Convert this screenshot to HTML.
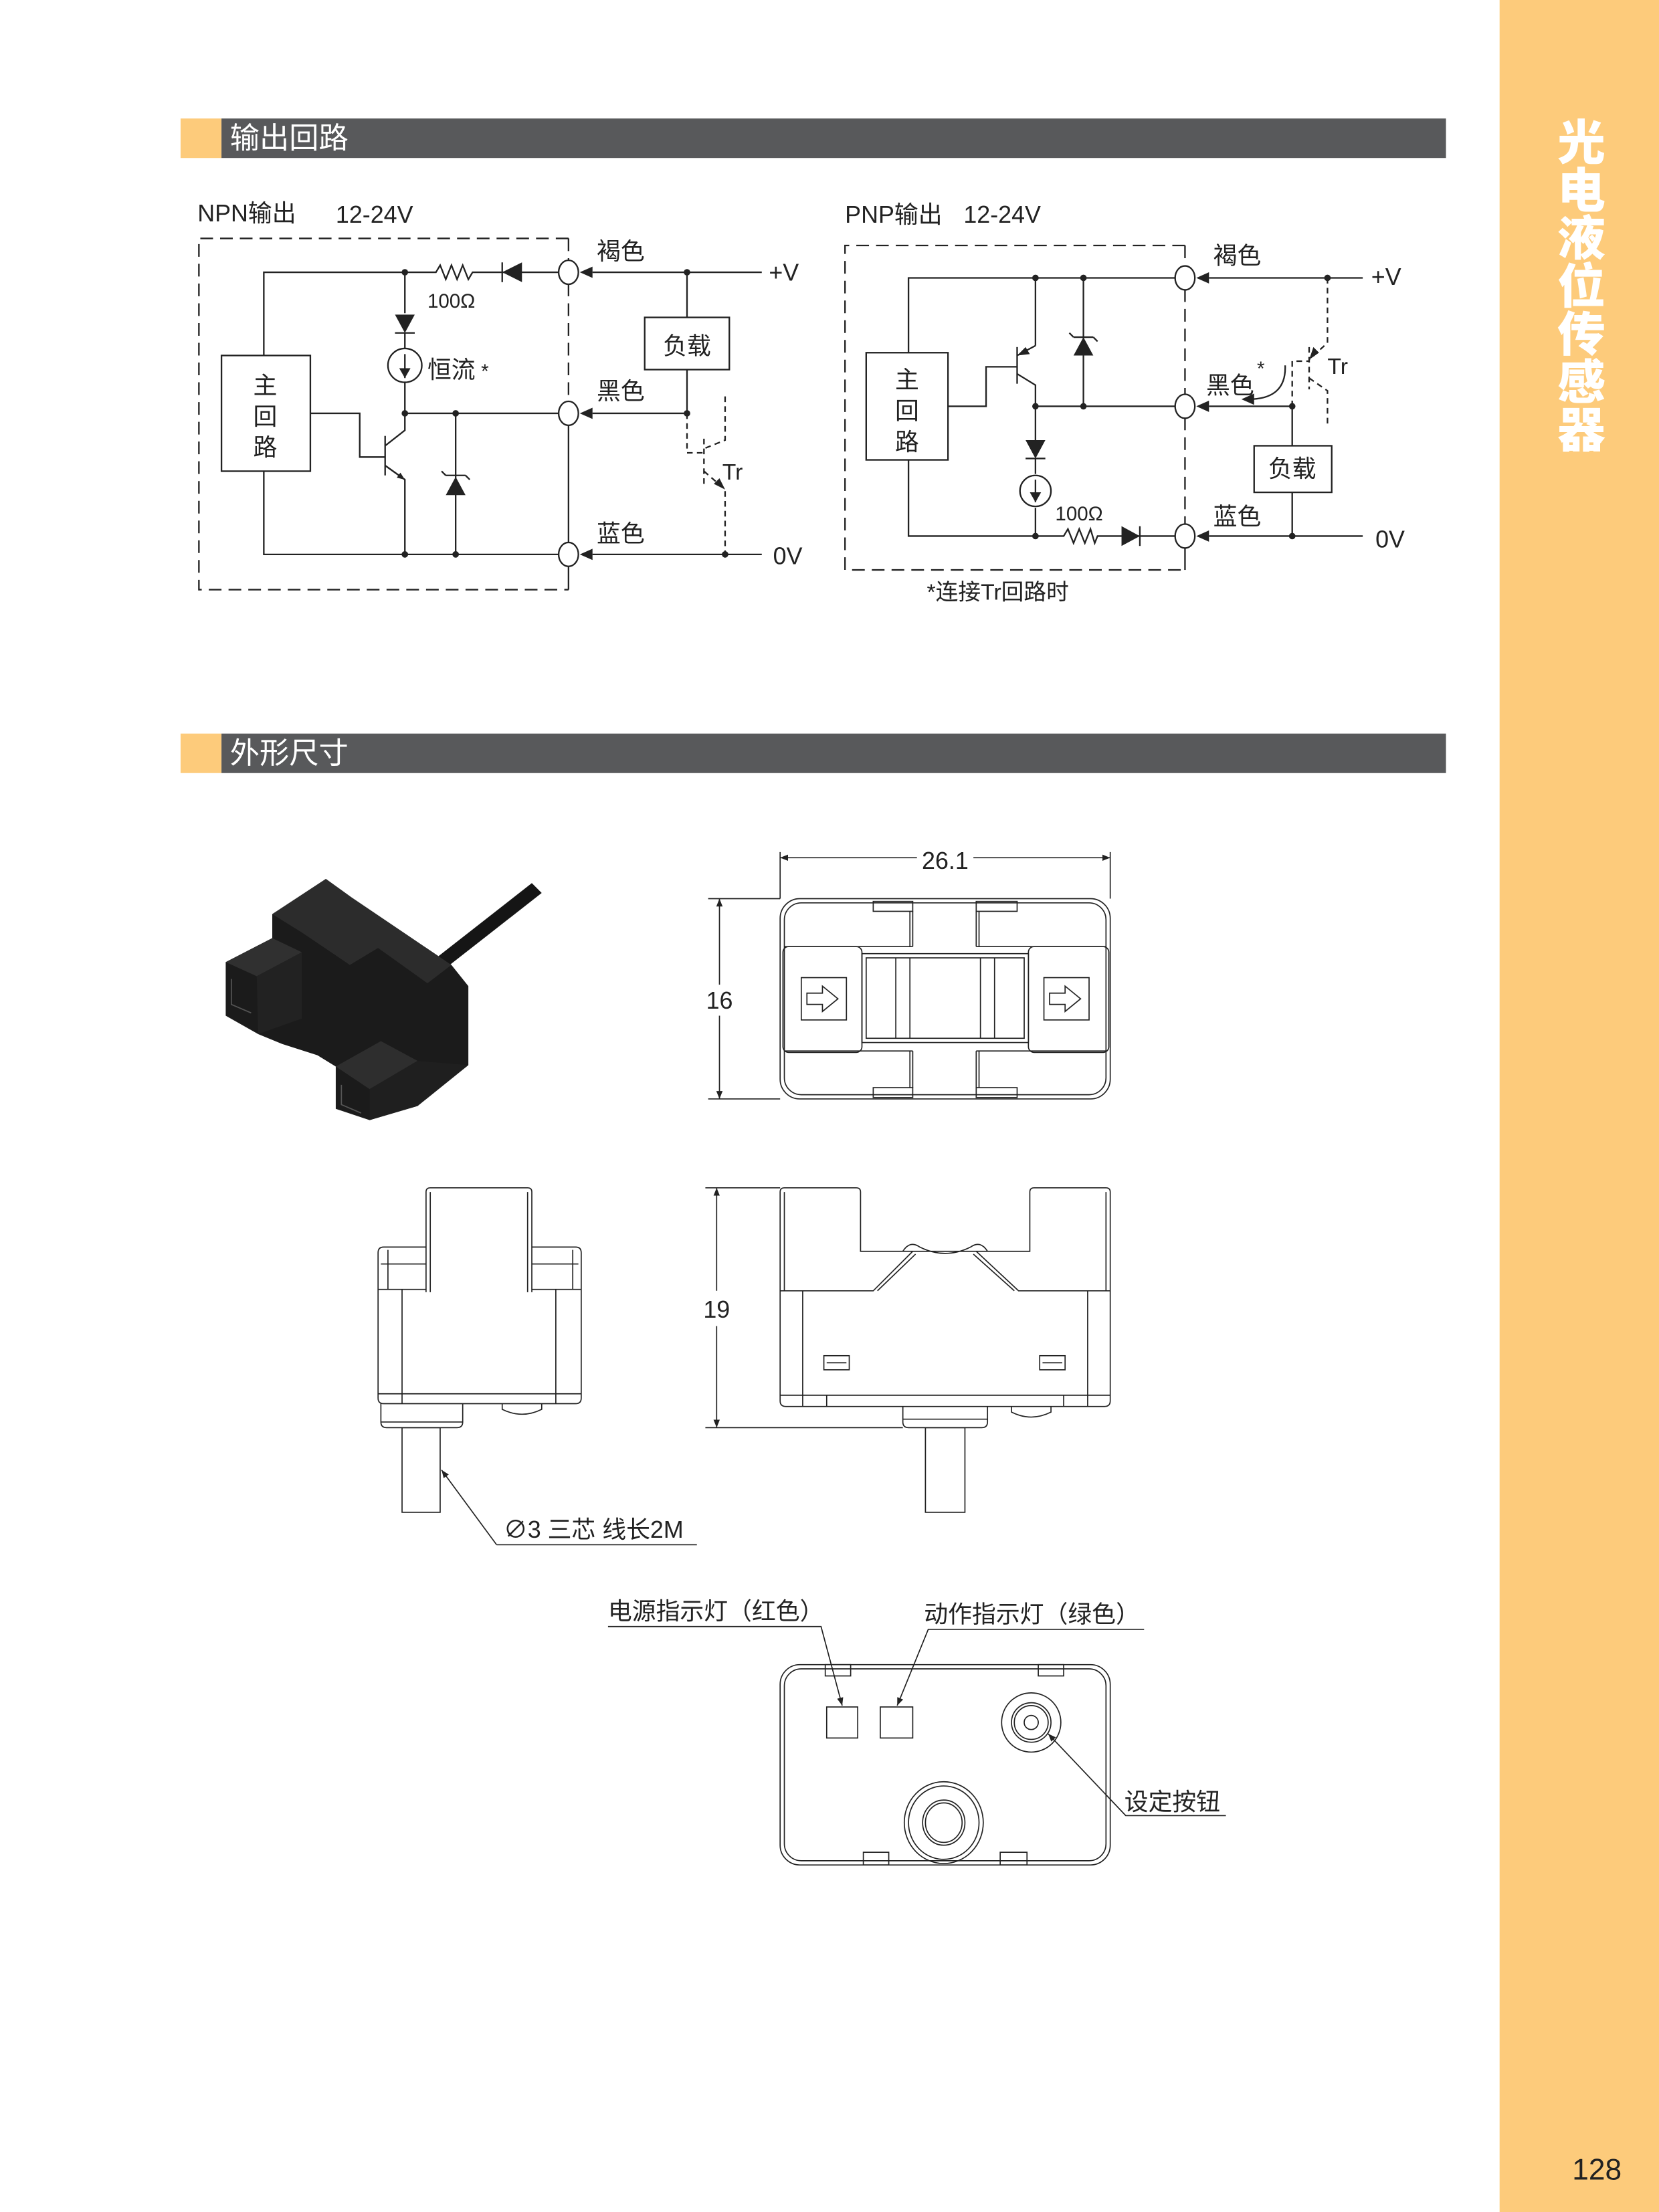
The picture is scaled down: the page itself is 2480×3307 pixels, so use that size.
<!DOCTYPE html>
<html><head><meta charset="utf-8"><style>
html,body{margin:0;padding:0;background:#fff;}
svg{display:block;}
text{font-family:"Liberation Sans","Noto Sans CJK SC",sans-serif;fill:#222;}
</style></head><body>
<svg width="2480" height="3307" viewBox="0 0 1176 1568" preserveAspectRatio="none" xmlns="http://www.w3.org/2000/svg">
<defs>
<marker id="ah" viewBox="0 0 10 10" refX="10" refY="5" markerWidth="7" markerHeight="7" orient="auto-start-reverse"><path d="M0,1 L10,5 L0,9 z" fill="#222"/></marker>
<marker id="ahs" viewBox="0 0 10 10" refX="10" refY="5" markerWidth="5" markerHeight="5" orient="auto"><path d="M0,1 L10,5 L0,9 z" fill="#222"/></marker>
</defs>
<!-- sidebar -->
<rect x="1063" y="0" width="113" height="1568" fill="#FDCB7B"/>
<g font-weight="900" font-size="34" text-anchor="middle">
<text x="1121" y="113" style="fill:#fff;font-family:'Noto Sans CJK SC',sans-serif">光</text>
<text x="1121" y="147" style="fill:#fff;font-family:'Noto Sans CJK SC',sans-serif">电</text>
<text x="1121" y="181" style="fill:#fff;font-family:'Noto Sans CJK SC',sans-serif">液</text>
<text x="1121" y="215" style="fill:#fff;font-family:'Noto Sans CJK SC',sans-serif">位</text>
<text x="1121" y="249" style="fill:#fff;font-family:'Noto Sans CJK SC',sans-serif">传</text>
<text x="1121" y="283" style="fill:#fff;font-family:'Noto Sans CJK SC',sans-serif">感</text>
<text x="1121" y="317" style="fill:#fff;font-family:'Noto Sans CJK SC',sans-serif">器</text>
</g>
<text x="1132" y="1545" font-size="21" text-anchor="middle">128</text>

<!-- header bars -->
<rect x="128" y="84" width="29" height="28" fill="#FDCB7B"/>
<rect x="157" y="84" width="868" height="28" fill="#58595B"/>
<text x="163" y="105" font-size="21" style="fill:#fff">输出回路</text>
<rect x="128" y="520" width="29" height="28" fill="#FDCB7B"/>
<rect x="157" y="520" width="868" height="28" fill="#58595B"/>
<text x="163" y="541" font-size="21" style="fill:#fff">外形尺寸</text>

<g stroke="#222" stroke-width="1.1" fill="none">
<!-- ================= NPN ================= -->
<path d="M403,169 L141,169 L141,418 L403,418" stroke-dasharray="9,5"/>
<path d="M403,169 L403,185 M403,201 L403,285" stroke-dasharray="9,5"/>
<path d="M403,301 L403,385 M403,401 L403,418"/>
<ellipse cx="403" cy="193" rx="7" ry="8.5" fill="#fff"/>
<ellipse cx="403" cy="293" rx="7" ry="8.5" fill="#fff"/>
<ellipse cx="403" cy="393" rx="7" ry="8.5" fill="#fff"/>
<rect x="157" y="252" width="63" height="82" fill="#fff"/>
<path d="M187,252 L187,193 L309,193 L312,188 L316,198 L320,188 L324,198 L328,188 L332,198 L335,193 L396,193"/>
<path d="M187,334 L187,393 L396,393"/>
<path d="M287,193 L287,222 M287,236 L287,247 M287,271 L287,305 L273,316"/>
<path d="M273,330 L287,340 L287,393" />
<path d="M273,330 L287,340" marker-end="url(#ahs)"/>
<line x1="273" y1="309" x2="273" y2="337"/>
<path d="M220,293 L255,293 L255,324 L273,324"/>
<path d="M287,293 L396,293"/>
<path d="M323,293 L323,393"/>
<line x1="280" y1="236" x2="294" y2="236"/>
<circle cx="287" cy="259" r="12"/>
<line x1="287" y1="251" x2="287" y2="268"/>
<line x1="316" y1="337" x2="330" y2="337"/><path d="M316,337 L313,334 M330,337 L333,340"/>
<line x1="356" y1="186" x2="356" y2="200"/>
<path d="M420,193 L540,193 M420,293 L487,293 M420,393 L540,393"/>
<path d="M487,193 L487,225 M487,262 L487,293"/>
<rect x="457" y="225" width="60" height="37" fill="#fff"/>
<path d="M487,293 L487,321 L499,321 M514,281 L514,312 L499,318 M499,334 L514,347 L514,393" stroke-dasharray="4,3"/>
<line x1="499" y1="311" x2="499" y2="345" stroke-dasharray="4,3"/>
</g>
<g fill="#222">
<path d="M356,193 L370,186 L370,200 z"/>
<path d="M280,223 L294,223 L287,236 z"/>
<path d="M287,268 L283,261 L291,261 z"/>
<path d="M323,338 L316,351 L330,351 z"/>
<path d="M411,193 L420,189 L420,197 z"/>
<path d="M411,293 L420,289 L420,297 z"/>
<path d="M411,393 L420,389 L420,397 z"/>
<path d="M514,347 L506,343 L510,339 z"/>
<circle cx="287" cy="193" r="2.3"/><circle cx="287" cy="293" r="2.3"/><circle cx="323" cy="293" r="2.3"/>
<circle cx="287" cy="393" r="2.3"/><circle cx="323" cy="393" r="2.3"/>
<circle cx="487" cy="193" r="2.3"/><circle cx="487" cy="293" r="2.3"/><circle cx="514" cy="393" r="2.3"/>
</g>
<text x="140" y="157" font-size="17">NPN输出</text>
<text x="238" y="158" font-size="17">12-24V</text>
<text x="303" y="218" font-size="14">100Ω</text>
<text x="303" y="268" font-size="17">恒流</text><text x="341" y="268" font-size="14">*</text>
<text x="188" y="279" font-size="17" text-anchor="middle">主</text>
<text x="188" y="301" font-size="17" text-anchor="middle">回</text>
<text x="188" y="323" font-size="17" text-anchor="middle">路</text>
<text x="423" y="184" font-size="17">褐色</text>
<text x="423" y="283" font-size="17">黑色</text>
<text x="423" y="384" font-size="17">蓝色</text>
<text x="545" y="199" font-size="17">+V</text>
<text x="548" y="400" font-size="17">0V</text>
<text x="487" y="251" font-size="17" text-anchor="middle">负载</text>
<text x="512" y="340" font-size="16">Tr</text>

<!-- ================= PNP ================= -->
<g stroke="#222" stroke-width="1.1" fill="none">
<path d="M840,174 L599,174 L599,404 L840,404" stroke-dasharray="9,5"/>
<path d="M840,174 L840,189 M840,205 L840,280 M840,296 L840,372" stroke-dasharray="9,5"/>
<path d="M840,388 L840,404"/>
<ellipse cx="840" cy="197" rx="7" ry="8.5" fill="#fff"/>
<ellipse cx="840" cy="288" rx="7" ry="8.5" fill="#fff"/>
<ellipse cx="840" cy="380" rx="7" ry="8.5" fill="#fff"/>
<rect x="614" y="250" width="58" height="76" fill="#fff"/>
<path d="M644,250 L644,197 L833,197 M644,326 L644,380 L754,380 L757,375 L761,385 L765,375 L769,385 L773,375 L776,385 L778,380 L833,380"/>
<path d="M734,197 L734,245 M721,265 L734,273 L734,313 M734,325 L734,336 M734,360 L734,380"/>
<path d="M721,252 L734,245"/>
<line x1="721" y1="246" x2="721" y2="272"/>
<path d="M672,288 L699,288 L699,260 L721,260"/>
<path d="M734,288 L833,288 M768,197 L768,288"/>
<line x1="761" y1="239" x2="775" y2="239"/><path d="M761,239 L758,236 M775,239 L778,242"/>
<line x1="727" y1="325" x2="741" y2="325"/>
<circle cx="734" cy="348" r="11"/><line x1="734" y1="340" x2="734" y2="356"/>
<line x1="808" y1="373" x2="808" y2="387"/>
<path d="M857,197 L966,197 M857,288 L916,288 M857,380 L966,380 M916,288 L916,316 M916,349 L916,380"/>
<rect x="889" y="316" width="55" height="33" fill="#fff"/>
<path d="M941,197 L941,243 L928,255 M928,268 L941,277 L941,303 M916,288 L916,256 L928,256" stroke-dasharray="4,3"/>
<line x1="928" y1="246" x2="928" y2="276" stroke-dasharray="4,3"/>
<path d="M911,259 Q912,283 885,283"/>
</g>
<g fill="#222">
<path d="M721,252 L727,246 L730,251 z"/>
<path d="M768,239 L761,252 L775,252 z"/>
<path d="M727,312 L741,312 L734,325 z"/>
<path d="M734,356 L730,349 L738,349 z"/>
<path d="M808,380 L795,373 L795,387 z"/>
<path d="M848,197 L857,193 L857,201 z"/>
<path d="M848,288 L857,284 L857,292 z"/>
<path d="M848,380 L857,376 L857,384 z"/>
<path d="M928,255 L931,246 L935,250 z"/>
<path d="M880,283 L889,279 L889,287 z"/>
<circle cx="734" cy="197" r="2.3"/><circle cx="768" cy="197" r="2.3"/><circle cx="734" cy="288" r="2.3"/>
<circle cx="768" cy="288" r="2.3"/><circle cx="734" cy="380" r="2.3"/>
<circle cx="941" cy="197" r="2.3"/><circle cx="916" cy="288" r="2.3"/><circle cx="916" cy="380" r="2.3"/>
</g>
<text x="599" y="158" font-size="17">PNP输出</text>
<text x="683" y="158" font-size="17">12-24V</text>
<text x="748" y="369" font-size="14">100Ω</text>
<text x="643" y="275" font-size="17" text-anchor="middle">主</text>
<text x="643" y="297" font-size="17" text-anchor="middle">回</text>
<text x="643" y="319" font-size="17" text-anchor="middle">路</text>
<text x="860" y="187" font-size="17">褐色</text>
<text x="855" y="279" font-size="17">黑色</text>
<text x="860" y="372" font-size="17">蓝色</text>
<text x="891" y="266" font-size="14">*</text>
<text x="972" y="202" font-size="17">+V</text>
<text x="975" y="388" font-size="17">0V</text>
<text x="916" y="338" font-size="17" text-anchor="middle">负载</text>
<text x="941" y="265" font-size="16">Tr</text>
<text x="657" y="425" font-size="16">*连接Tr回路时</text>

<!-- ================= photo ================= -->
<path d="M308,680 L377,626 L384,633 L315,687 z" fill="#151515"/>
<path d="M160,682 L193,665 L193,648 L231,623 L249,636 L320,684 L332,699 L332,755 L296,784 L262,794 L238,786 L238,756 L225,748 L200,740 L183,733 L160,720 z" fill="#1b1b1b"/>
<path d="M193,648 L231,623 L249,636 L320,684 L303,697 L268,672 L248,684 L214,661 z" fill="#2c2c2c"/>
<path d="M160,682 L193,665 L214,675 L182,692 z" fill="#303030"/>
<path d="M182,692 L214,675 L214,722 L183,733 z" fill="#222"/>
<path d="M238,756 L270,738 L296,752 L262,772 z" fill="#2e2e2e"/>
<path d="M262,772 L296,752 L332,755 L296,784 L262,794 z" fill="#1f1f1f"/>
<path d="M164,694 L164,712 L178,718 M242,769 L242,783 L256,789" stroke="#555" stroke-width="0.8" fill="none"/>

<!-- ================= top view ================= -->
<g stroke="#222" stroke-width="0.8" fill="none">
<line x1="553" y1="604" x2="553" y2="637"/><line x1="787" y1="604" x2="787" y2="637"/>
<path d="M553,608 L650,608 M690,608 L787,608" marker-start="url(#ah)" marker-end="url(#ah)"/>
<line x1="502" y1="637" x2="553" y2="637"/><line x1="502" y1="779" x2="553" y2="779"/>
<path d="M510,637 L510,698 M510,720 L510,779" marker-start="url(#ah)" marker-end="url(#ah)"/>
<rect x="553" y="637" width="234" height="142" rx="14"/>
<rect x="556" y="640" width="228" height="136" rx="12"/>
<rect x="619" y="639" width="28" height="7"/><rect x="692" y="639" width="29" height="7"/>
<rect x="619" y="771" width="28" height="7"/><rect x="692" y="771" width="29" height="7"/>
<path d="M645,646 L645,671 M647,646 L647,671 M692,646 L692,671 M694,646 L694,671"/>
<path d="M645,745 L645,771 M647,745 L647,771 M692,745 L692,771 M694,745 L694,771"/>
<path d="M556,671 L647,671 M692,671 L784,671 M556,745 L647,745 M692,745 L784,745"/>
<rect x="555" y="671" width="56" height="75" rx="4"/>
<rect x="729" y="671" width="57" height="75" rx="4"/>
<rect x="611" y="676" width="118" height="63"/>
<rect x="614" y="679" width="112" height="57"/>
<path d="M635,679 L635,736 M645,679 L645,736 M695,679 L695,736 M705,679 L705,736"/>
<rect x="568" y="693" width="32" height="30"/>
<rect x="740" y="693" width="32" height="30"/>
<path d="M572,704 L583,704 L583,699 L594,708 L583,717 L583,712 L572,712 z"/>
<path d="M744,704 L755,704 L755,699 L766,708 L755,717 L755,712 L744,712 z"/>
</g>
<text x="670" y="616" font-size="17" text-anchor="middle">26.1</text>
<text x="510" y="715" font-size="17" text-anchor="middle">16</text>

<!-- ================= side views ================= -->
<g stroke="#222" stroke-width="0.8" fill="none">
<!-- left -->
<path d="M302,916 L302,845 Q302,842 305,842 L374,842 Q377,842 377,845 L377,916"/>
<path d="M305,845 L305,916 M374,845 L374,916"/>
<path d="M302,884 L272,884 Q268,884 268,888 L268,991 Q268,995 272,995 L408,995 Q412,995 412,991 L412,888 Q412,884 408,884 L377,884"/>
<path d="M275,886 L275,914 M406,886 L406,914 M270,896 L302,896 M377,896 L410,896 M268,914 L302,914 M377,914 L412,914"/>
<path d="M285,914 L285,995 M394,914 L394,995 M268,988 L412,988"/>
<path d="M270,995 L270,1008 Q270,1012 274,1012 L324,1012 Q328,1012 328,1008 L328,995 M270,1008 L328,1008"/>
<path d="M356,995 L356,999 Q370,1006 384,999 L384,995"/>
<rect x="285" y="1012" width="27" height="60"/>
<path d="M352,1095 L313,1042" marker-end="url(#ah)"/>
<path d="M352,1095 L494,1095"/>
<!-- right -->
<line x1="500" y1="842" x2="553" y2="842"/><line x1="500" y1="1012" x2="640" y2="1012"/>
<path d="M508,842 L508,915 M508,940 L508,1012" marker-start="url(#ah)" marker-end="url(#ah)"/>
<path d="M553,915 L553,845 Q553,842 556,842 L607,842 Q610,842 610,845 L610,887 L730,887 L730,845 Q730,842 733,842 L784,842 Q787,842 787,845 L787,993 Q787,997 783,997 L557,997 Q553,997 553,993 z"/>
<path d="M556,845 L556,915 M784,845 L784,915 M553,915 L619,915 L647,887 M692,887 L722,915 L787,915 M622,915 L649,889 M690,889 L719,915"/>
<path d="M640,887 Q645,879 652,884 Q670,893 688,884 Q695,879 700,887"/>
<path d="M569,915 L569,997 M771,915 L771,997 M553,989 L787,989 M586,989 L586,997 M754,989 L754,997"/>
<rect x="584" y="961" width="18" height="10"/><rect x="737" y="961" width="18" height="10"/>
<line x1="586" y1="966" x2="600" y2="966"/><line x1="739" y1="966" x2="753" y2="966"/>
<path d="M640,997 L640,1008 Q640,1012 644,1012 L696,1012 Q700,1012 700,1008 L700,997 M640,1006 L700,1006"/>
<path d="M717,997 L717,1001 Q731,1008 745,1001 L745,997"/>
<rect x="656" y="1012" width="28" height="60"/>
</g>
<text x="508" y="934" font-size="17" text-anchor="middle">19</text>
<text x="357" y="1090" font-size="17">∅3 三芯 线长2M</text>

<!-- ================= bottom view ================= -->
<g stroke="#222" stroke-width="0.8" fill="none">
<rect x="553" y="1180" width="234" height="142" rx="14"/>
<rect x="556" y="1183" width="228" height="136" rx="12"/>
<rect x="585" y="1180" width="18" height="8"/><rect x="736" y="1180" width="18" height="8"/>
<rect x="612" y="1313" width="18" height="9"/><rect x="709" y="1313" width="19" height="9"/>
<rect x="586" y="1210" width="22" height="22"/>
<rect x="624" y="1210" width="23" height="22"/>
<circle cx="731" cy="1221" r="21"/><circle cx="731" cy="1221" r="14"/><circle cx="731" cy="1221" r="12"/><circle cx="731" cy="1221" r="5"/>
<ellipse cx="669" cy="1292" rx="28" ry="29"/><ellipse cx="669" cy="1292" rx="25" ry="26"/>
<ellipse cx="669" cy="1292" rx="15" ry="16"/><ellipse cx="669" cy="1292" rx="13" ry="14"/>
<path d="M431,1153 L582,1153 L597,1209" marker-end="url(#ah)"/>
<path d="M811,1155 L658,1155 L636,1209" marker-end="url(#ah)"/>
<path d="M869,1287 L798,1287 L743,1229" marker-end="url(#ah)"/>
</g>
<text x="431" y="1148" font-size="17">电源指示灯（红色）</text>
<text x="655" y="1150" font-size="17">动作指示灯（绿色）</text>
<text x="797" y="1283" font-size="17">设定按钮</text>
</svg>
</body></html>
